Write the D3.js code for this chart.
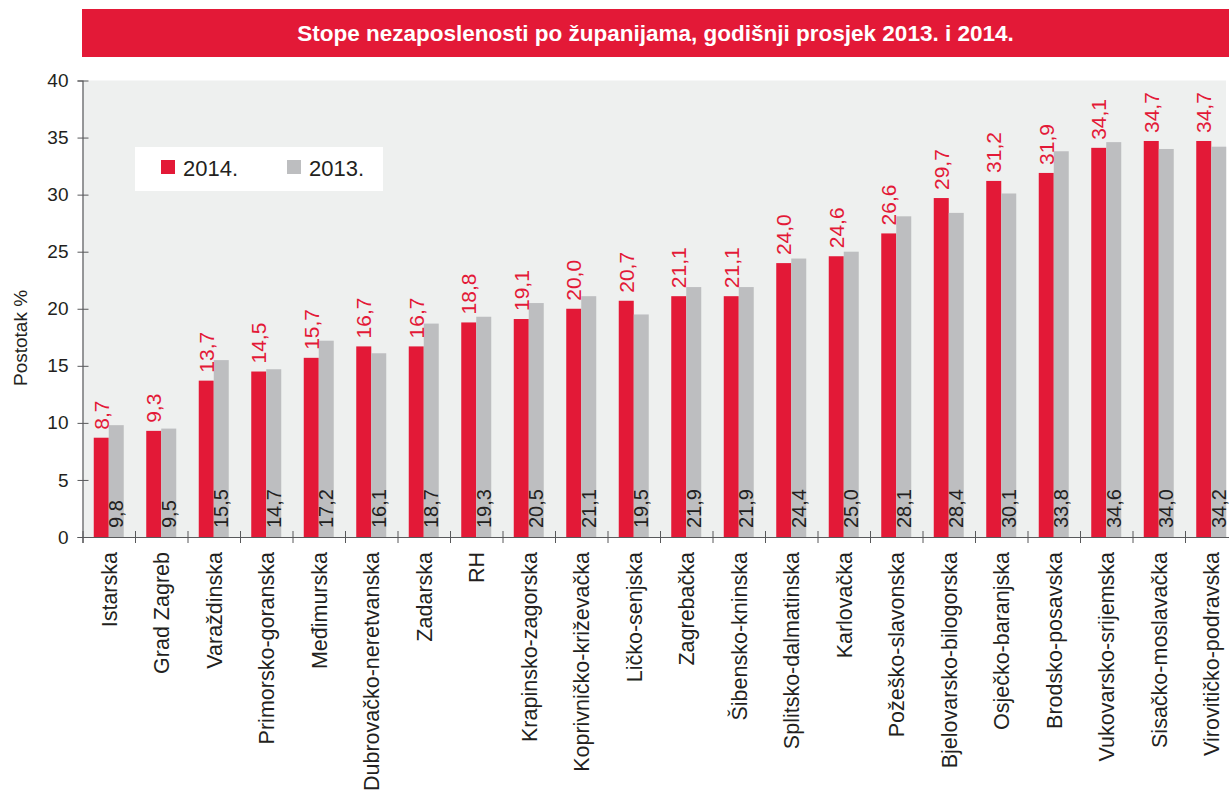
<!DOCTYPE html>
<html>
<head>
<meta charset="utf-8">
<script src="https://cdn.jsdelivr.net/npm/d3@7"></script>
<style>
  body { margin: 0; background: #fff; }
  svg text { font-family: "Liberation Sans", Arial, sans-serif; }
</style>
</head>
<body>
<div id="chart"></div>
<script>
var categories = ["Istarska", "Grad Zagreb", "Varaždinska", "Primorsko-goranska", "Međimurska",
  "Dubrovačko-neretvanska", "Zadarska", "RH", "Krapinsko-zagorska", "Koprivničko-križevačka",
  "Ličko-senjska", "Zagrebačka", "Šibensko-kninska", "Splitsko-dalmatinska", "Karlovačka",
  "Požeško-slavonska", "Bjelovarsko-bilogorska", "Osječko-baranjska", "Brodsko-posavska",
  "Vukovarsko-srijemska", "Sisačko-moslavačka", "Virovitičko-podravska"];
var values2014 = [8.7, 9.3, 13.7, 14.5, 15.7, 16.7, 16.7, 18.8, 19.1, 20.0, 20.7, 21.1, 21.1,
  24.0, 24.6, 26.6, 29.7, 31.2, 31.9, 34.1, 34.7, 34.7];
var values2013 = [9.8, 9.5, 15.5, 14.7, 17.2, 16.1, 18.7, 19.3, 20.5, 21.1, 19.5, 21.9, 21.9,
  24.4, 25.0, 28.1, 28.4, 30.1, 33.8, 34.6, 34.0, 34.2];
var yTicks = [0, 5, 10, 15, 20, 25, 30, 35, 40];
var seriesNames = ["2014.", "2013."];
var title = "Stope nezaposlenosti po županijama, godišnji prosjek 2013. i 2014.";

var W = 1229, H = 794;
var red = "#e31937", grey = "#bdbec0", bg = "#eef0ef";
var plotLeft = 82.5, bandW = 52.5, plotTop = 80.5, base = 537;
var plotRight = plotLeft + categories.length * bandW;

var fmt = function(v){ return d3.format(".1f")(v).replace(".", ","); };

var svg = d3.select("#chart").append("svg")
    .attr("width", W)
    .attr("height", H);

// title bar
svg.append("rect")
    .attr("x", 82).attr("y", 9)
    .attr("width", W - 82).attr("height", 48)
    .attr("fill", red);
svg.append("text")
    .attr("x", (82 + W) / 2).attr("y", 41)
    .attr("text-anchor", "middle")
    .attr("fill", "#fff")
    .style("font-weight", "bold")
    .style("font-size", "22.5px")
    .text(title);

// plot background
svg.append("rect")
    .attr("x", plotLeft).attr("y", plotTop)
    .attr("width", 1226 - plotLeft).attr("height", base - plotTop)
    .attr("fill", bg);

var x = d3.scaleBand()
    .domain(categories)
    .range([plotLeft, plotRight])
    .padding(0);
var xEdge = d3.scaleLinear()
    .domain([0, categories.length])
    .range([plotLeft, plotRight]);
var y = d3.scaleLinear()
    .domain([0, 40])
    .range([base, plotTop]);

var barW = 15;

// bars
svg.selectAll(".b14")
    .data(values2014)
  .enter().append("rect")
    .attr("class", "b14")
    .attr("x", function(d, i){ return x(categories[i]) + bandW / 2 - barW; })
    .attr("y", function(d){ return y(d); })
    .attr("width", barW)
    .attr("height", function(d){ return base - y(d); })
    .attr("fill", red);

svg.selectAll(".b13")
    .data(values2013)
  .enter().append("rect")
    .attr("class", "b13")
    .attr("x", function(d, i){ return x(categories[i]) + bandW / 2; })
    .attr("y", function(d){ return y(d); })
    .attr("width", barW)
    .attr("height", function(d){ return base - y(d); })
    .attr("fill", grey);

// value labels
svg.selectAll(".l14")
    .data(values2014)
  .enter().append("text")
    .attr("class", "l14")
    .attr("transform", function(d, i){
      return "translate(" + (x(categories[i]) + bandW / 2 - barW / 2) + "," + (y(d) - 8) + ") rotate(-90)";
    })
    .attr("dy", "0.36em")
    .attr("fill", red)
    .style("font-size", "21px")
    .text(fmt);

svg.selectAll(".l13")
    .data(values2013)
  .enter().append("text")
    .attr("class", "l13")
    .attr("transform", function(d, i){
      return "translate(" + (x(categories[i]) + bandW / 2 + barW / 2) + "," + (base - 9) + ") rotate(-90)";
    })
    .attr("dy", "0.36em")
    .attr("fill", "#231f20")
    .style("font-size", "20px")
    .text(fmt);

// y axis
var yAxis = svg.append("g")
    .attr("transform", "translate(" + plotLeft + ",0)")
    .call(d3.axisLeft(y).tickValues(yTicks).tickSize(5).tickPadding(9));
yAxis.select(".domain").attr("stroke", "#58595b").attr("stroke-width", 1.2);
yAxis.selectAll(".tick line").attr("x1", 6).attr("stroke", "#58595b");
yAxis.selectAll(".tick text")
    .attr("fill", "#231f20")
    .style("font-size", "19px")
    .style("font-family", "'Liberation Sans', Arial, sans-serif");

// x axis: boundary ticks
var xAxis = svg.append("g")
    .attr("transform", "translate(0," + base + ")")
    .call(d3.axisBottom(xEdge).tickValues(d3.range(categories.length + 1)).tickSize(6).tickFormat(""));
xAxis.select(".domain").attr("stroke", "#58595b").attr("stroke-width", 1.2);
xAxis.selectAll(".tick line").attr("y1", -6).attr("stroke", "#58595b");

// category labels
var xLab = svg.append("g")
    .attr("transform", "translate(0," + base + ")")
    .call(d3.axisBottom(x).tickSize(0).tickPadding(0));
xLab.select(".domain").remove();
xLab.selectAll(".tick text")
    .attr("transform", "translate(0,15) rotate(-90)")
    .attr("x", 0).attr("y", 0)
    .attr("dy", "0.36em")
    .attr("text-anchor", "end")
    .attr("fill", "#231f20")
    .style("font-size", "21.5px")
    .style("font-family", "'Liberation Sans', Arial, sans-serif");

// y axis title
svg.append("text")
    .attr("transform", "translate(20,338) rotate(-90)")
    .attr("text-anchor", "middle")
    .attr("dy", "0.36em")
    .attr("fill", "#231f20")
    .style("font-size", "19px")
    .text("Postotak %");

// legend
var legend = svg.append("g");
legend.append("rect")
    .attr("x", 135).attr("y", 147)
    .attr("width", 248).attr("height", 44)
    .attr("fill", "#fff");
var legX = [161, 287];
var legC = [red, grey];
seriesNames.forEach(function(n, i){
  legend.append("rect")
      .attr("x", legX[i]).attr("y", 160)
      .attr("width", 14).attr("height", 14)
      .attr("fill", legC[i]);
  legend.append("text")
      .attr("x", legX[i] + 22).attr("y", 176)
      .attr("fill", "#231f20")
      .style("font-size", "22px")
      .text(n);
});
</script>
</body>
</html>
